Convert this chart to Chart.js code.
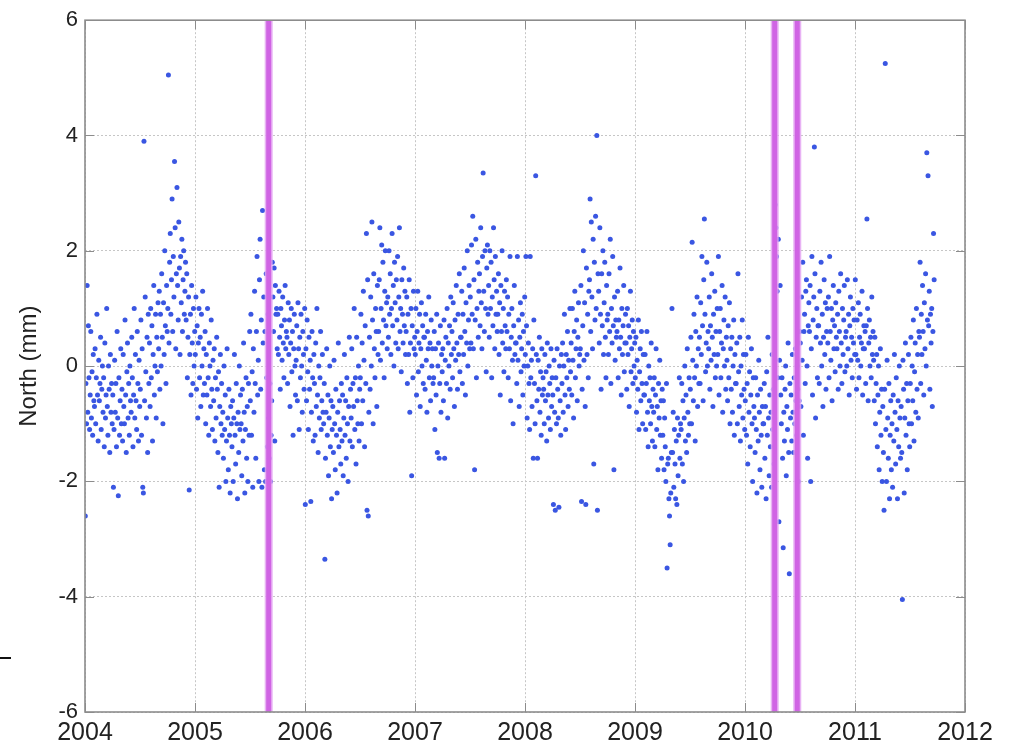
<!DOCTYPE html>
<html>
<head>
<meta charset="utf-8">
<script src="https://cdn.jsdelivr.net/npm/chart.js@4.4.0/dist/chart.umd.min.js"></script>
<style>
html, body { margin: 0; padding: 0; background: #fff; }
</style>
</head>
<body>
<canvas id="canvasNorth" width="1013" height="747"></canvas>
<script>
// ticks
var xTicks = [2004, 2005, 2006, 2007, 2008, 2009, 2010, 2011, 2012];
var yTicks = [-6, -4, -2, 0, 2, 4, 6];

// dates of the offsets (vertical magenta lines)
var offsetDates = [2005.67, 2010.27, 2010.475];

// north component (mm), one value every ~2 days, per year
var sampleStep = 1 / 180;
var north2004 = [
 -2.6,-0.3,-1.0,1.4,-0.8,0.7,-0.2,-1.1,-0.5,0.6,-0.9,-0.1,-1.2,0.2,-0.6,
 -0.7,0.3,-1.0,-0.2,0.9,-0.5,-1.3,0.1,-0.6,-0.3,0.5,-1.1,-0.4,0.0,-0.8,
 -0.2,-1.4,0.4,-0.9,-0.5,1.0,-0.7,-1.2,0.0,-0.4,-1.5,0.2,-0.8,-0.3,-1.0,
 -0.5,-2.1,-1.1,0.1,-0.8,-0.3,-1.4,0.6,-0.9,-2.25,-0.2,-1.2,-0.6,0.3,-1.0,
 -0.4,-1.3,0.2,-0.7,-1.0,0.8,-0.5,-1.5,-0.1,0.4,-0.9,-0.3,-1.2,0.0,-0.6,
 -0.8,0.5,-0.2,-1.4,-0.5,1.0,-0.9,0.2,-0.6,-1.1,0.6,-0.3,-1.3,0.1,-0.7,
 -0.4,0.8,-1.2,0.3,-2.1,-2.2,3.9,-0.6,1.2,-0.1,-0.9,0.5,-1.5,0.9,-0.3,
 0.4,-0.7,1.0,-0.2,0.7,-1.3,0.2,1.4,-0.5,0.0,0.9,-0.9,0.5,-0.1,1.1,
 0.3,1.3,-0.4,0.9,0.0,1.6,0.5,-1.0,1.1,0.2,2.0,0.7,-0.3,1.4,0.6,
 1.0,5.05,0.4,1.8,2.3,0.9,1.5,2.9,0.6,1.9,1.2,3.55,2.4,0.3,1.6,
 3.1,1.4,0.8,2.5,1.7,0.2,1.9,1.1,2.2,0.6,1.5,2.0,0.9,1.3,1.8,
 0.8,1.6,-0.2,0.5,1.2,-2.15,0.2,0.9,-0.5,1.4,0.4,-0.3,1.0,0.0,0.6
];
var north2005 = [
 0.2,1.2,-0.4,0.7,-0.9,0.4,1.0,-0.2,0.5,-0.7,0.9,0.0,1.3,-0.5,0.3,
 -0.3,0.6,-1.0,0.2,-0.5,1.0,-0.2,-1.2,0.4,0.0,-0.7,0.8,-0.4,-1.1,0.1,
 -0.6,0.3,-1.3,-0.2,-0.9,0.5,-0.4,-1.5,-0.1,-2.1,-0.7,0.2,-1.0,-0.3,-1.2,
 -0.8,-1.6,0.0,-1.1,-0.5,-2.0,-1.3,0.3,-0.9,-1.8,-0.4,-1.2,-2.2,-0.7,-1.0,
 -1.4,-0.6,-2.0,-0.9,0.2,-1.2,-1.7,-0.3,-1.0,-2.3,-0.8,-1.5,0.0,-1.1,-0.5,
 -1.0,-1.9,-0.4,-1.3,0.4,-0.8,-2.2,-1.1,-0.2,-1.6,-0.7,-2.0,-0.3,-1.2,0.6,
 -0.6,0.9,-1.2,-0.1,-2.1,0.3,-0.8,1.3,-0.3,-1.6,0.6,1.9,-0.5,0.1,-2.0,
 1.5,2.2,-0.4,0.8,-2.1,2.7,0.4,1.2,-1.8,0.6,-2.0,1.6,-0.2,-1.4,0.9,
 -0.9,-1.6,-0.3,-2.0,-1.2,-0.6,1.8,1.2,0.6,1.7,-1.3,1.4,0.9,1.0,0.3,
 0.9,0.2,1.3,0.5,-0.4,1.0,0.7,0.1,1.2,0.4,-0.2,0.8,1.4,0.3,0.6,
 0.5,-0.3,1.1,0.2,0.8,-0.7,0.4,1.0,-0.1,0.6,-1.2,0.3,0.9,0.0,-0.5,
 0.1,0.7,-0.6,1.1,0.3,-1.1,0.5,-0.2,0.9,0.0,-0.8,0.6,0.2,-0.4,1.0
];
var north2006 = [
 -2.4,0.3,-0.6,0.8,-0.1,-1.1,0.5,-0.4,0.1,-2.35,-0.8,0.6,-0.2,-1.3,0.2,
 -0.3,-1.2,0.4,-0.7,1.0,-0.5,-1.5,0.0,-0.9,-0.2,0.6,-1.1,-0.6,0.2,-0.8,
 -1.0,-0.3,-3.35,-1.6,-0.8,0.3,-1.2,-0.5,-1.9,-0.9,0.0,-1.4,-0.6,-2.3,-1.1,
 -0.7,-1.5,0.1,-1.0,-1.8,-0.4,-1.2,-2.2,-0.8,0.4,-1.4,-0.6,-1.1,-1.7,-0.3,
 -1.3,-0.5,-1.9,-0.9,0.2,-1.2,-0.6,-1.6,-0.2,-1.0,-2.0,-0.7,0.5,-1.3,-0.4,
 -0.9,0.3,-1.4,-0.3,-0.7,1.0,-1.1,-0.2,-1.7,0.5,-0.6,-1.0,0.0,-1.3,-0.4,
 -0.2,0.9,-1.0,0.4,-0.6,1.3,0.1,-1.4,0.7,-0.3,2.3,-2.5,1.5,-2.6,-0.8,
 0.5,-0.4,1.2,0.0,2.5,0.8,-1.0,1.6,0.3,-0.2,1.0,0.6,-0.7,1.4,0.2,
 0.6,1.5,2.4,0.1,1.0,2.1,0.4,1.8,0.8,-0.2,1.3,2.0,0.7,1.1,0.3,
 1.2,0.5,2.0,0.9,1.6,0.2,1.0,2.3,0.7,1.4,0.0,1.8,1.1,0.4,1.5,
 0.8,1.9,0.3,1.2,2.4,0.6,1.0,-0.1,1.5,0.9,0.4,1.7,0.7,1.3,0.2,
 0.6,1.2,-0.3,0.9,0.2,1.5,-0.8,0.4,1.0,-1.9,0.7,-0.2,1.3,0.3,0.5
];
var north2007 = [
 0.2,1.0,-0.5,0.6,1.3,-0.1,0.4,0.9,-0.7,0.3,1.1,0.0,0.7,-0.3,0.5,
 0.5,-0.4,0.9,0.1,-0.8,0.6,0.3,1.2,-0.2,0.4,-0.6,0.8,0.0,0.3,-0.3,
 -0.2,0.6,-1.1,0.3,-0.5,0.9,-1.5,0.0,0.4,-1.6,-0.3,0.7,-0.8,0.2,-0.1,
 0.3,-0.6,0.8,-1.6,0.1,0.5,-0.3,1.0,-0.9,0.4,0.0,0.7,-0.4,1.2,0.2,
 0.6,-0.2,1.1,0.3,-0.7,0.8,0.1,1.4,0.4,-0.4,0.9,0.2,1.6,-0.1,0.5,
 0.5,1.3,-0.3,0.9,0.2,1.7,0.6,-0.5,1.1,0.4,2.0,0.0,0.8,1.4,0.3,
 1.2,0.4,2.1,0.9,2.6,0.3,1.5,-1.8,0.8,2.2,-0.2,1.0,1.8,0.5,1.3,
 1.6,0.7,2.4,1.1,0.3,1.9,3.35,1.3,0.6,2.0,1.0,-0.1,1.7,2.1,0.9,
 1.4,0.5,2.0,1.0,1.8,-0.2,1.2,0.7,2.4,1.5,0.3,1.9,0.9,1.3,0.6,
 0.9,1.6,0.2,1.1,-0.5,1.4,0.6,2.0,0.4,1.0,-0.1,1.3,0.7,0.3,1.5,
 0.6,1.2,-0.2,0.9,0.3,1.9,-0.6,0.5,1.0,0.1,-1.0,0.7,1.4,0.2,0.4,
 0.4,-0.3,1.9,0.1,0.8,-0.7,0.5,1.1,-0.1,0.3,0.9,-0.5,0.6,0.0,1.2
];
var north2008 = [
 0.2,1.9,0.7,-0.9,0.0,0.4,-0.3,-1.1,1.9,-0.2,0.1,-0.7,0.3,-1.6,0.8,
 -0.3,-1.0,3.3,0.2,-0.6,-1.6,0.1,-0.4,0.5,-0.8,-0.1,-1.2,0.3,-0.5,-0.2,
 -0.4,-1.0,0.2,-0.6,-0.1,-1.3,0.4,-0.5,-0.9,0.0,-0.3,-1.1,0.3,-0.7,-0.2,
 -0.5,-2.4,0.1,-0.8,-2.5,-0.2,-1.0,0.3,-0.4,-0.9,-2.45,0.0,-0.6,-1.2,0.2,
 -0.3,0.4,-0.8,0.0,0.9,-0.5,-1.1,0.2,-0.2,0.6,-0.7,0.1,-0.4,1.0,-0.1,
 0.4,-0.5,1.0,0.1,-0.9,0.6,1.3,-0.2,0.3,0.8,-0.6,0.5,1.1,0.0,0.2,
 0.3,1.4,-2.35,-0.4,0.7,2.0,0.1,1.1,-0.7,-2.4,1.7,0.2,0.9,-0.2,1.3,
 1.5,2.9,0.6,2.5,1.2,0.3,2.2,-1.7,1.8,0.8,2.6,1.0,4.0,-2.5,1.6,
 1.3,0.4,2.4,0.9,-0.4,1.6,0.7,2.0,0.2,1.1,1.8,0.5,-0.2,1.4,0.8,
 0.9,0.2,1.6,0.6,2.2,-0.3,1.0,0.4,1.9,0.7,-1.8,1.2,0.1,0.8,0.5,
 0.6,1.3,-0.2,0.8,0.3,1.7,0.5,-0.5,1.0,0.2,0.7,1.4,-0.1,0.4,0.9,
 0.4,-0.4,1.0,0.2,0.7,-0.7,0.5,1.3,-0.1,0.3,0.8,-0.3,0.6,0.0,0.4
];
var north2009 = [
 -0.2,0.5,-0.8,0.1,-0.4,0.8,-1.1,-0.1,0.3,-0.6,0.6,-0.3,-1.0,0.2,-0.5,
 -0.5,0.2,-1.1,-0.3,0.6,-0.8,-1.4,0.0,-0.6,-0.2,-1.0,0.4,-0.7,-1.3,-0.4,
 -0.8,-0.2,-1.4,-0.5,0.3,-1.1,-0.7,-1.8,-0.3,-0.9,0.1,-1.2,-0.6,-1.6,-0.4,
 -1.2,-0.6,-1.8,-0.9,-1.4,-2.0,-0.3,-3.5,-1.7,-1.6,-2.3,-2.6,-3.1,-2.2,-1.5,
 1.0,-1.5,-0.8,-2.1,-1.1,-1.7,-2.3,-1.3,-2.4,-0.9,-1.9,-1.2,-0.2,-1.6,-1.0,
 -1.1,-0.3,-1.7,-0.6,-2.0,-0.9,0.0,-1.3,-0.5,-1.5,0.3,-0.8,-1.2,-0.2,-1.0,
 -0.4,0.5,-1.0,2.15,0.1,-0.6,0.9,-0.2,-1.3,0.6,0.0,1.2,-0.7,0.3,-0.3,
 0.5,-0.3,1.1,0.2,1.9,0.7,-0.6,1.5,2.55,0.9,-0.1,0.4,1.8,0.0,0.6,
 0.3,1.2,-0.4,0.7,0.1,1.6,0.5,-0.7,0.9,0.2,1.3,-0.2,0.6,0.0,1.0,
 0.2,1.9,-0.5,0.6,1.0,-0.2,0.4,1.4,-0.8,0.3,0.8,0.0,1.2,-0.4,0.5,
 0.1,-0.6,0.7,-0.2,1.1,-1.0,0.3,-0.4,0.5,-0.8,0.0,0.8,-1.2,0.2,-0.3,
 -0.3,0.4,-1.0,1.6,-0.1,-0.7,0.5,-1.3,0.0,-0.5,0.8,-0.9,0.2,-0.4,-1.1
];
var north2010 = [
 -0.6,0.2,-1.2,-0.3,-1.7,0.5,-0.8,-0.1,-1.4,-0.5,0.3,-1.0,-2.0,-0.2,-0.7,
 -0.9,-1.5,-0.2,-1.1,-2.2,-0.5,-1.3,0.1,-0.8,-1.8,-0.4,-1.2,-2.1,-0.7,-1.0,
 -1.0,-0.3,-1.6,-0.7,-2.3,-0.1,-1.2,0.5,-0.9,-1.9,-0.5,-1.4,-0.8,-2.1,0.2,
 -1.1,-0.4,-1.7,-0.9,2.8,2.4,1.9,1.3,-0.2,2.2,-2.7,0.1,1.4,-0.5,-1.0,
 -0.2,-1.6,-3.15,-0.8,-1.3,-0.4,0.0,-1.9,-0.7,-1.1,0.4,-1.5,-3.6,-0.3,-0.9,
 -0.5,-1.3,0.2,-0.8,-1.5,-0.2,-1.0,0.3,-0.6,-1.2,0.0,-0.4,-2.0,-0.6,0.6,
 0.4,-0.7,1.2,0.1,1.8,-1.2,0.6,0.9,-0.3,1.3,1.5,0.0,-1.6,0.7,1.1,
 0.6,1.4,-2.0,0.3,1.9,-0.5,0.8,1.2,3.8,1.6,-0.9,0.5,1.0,-0.2,0.7,
 0.7,-0.3,1.3,0.4,1.8,0.0,0.9,-0.7,0.5,1.5,0.2,1.1,-0.4,0.6,1.0,
 0.4,1.2,-0.2,1.9,0.6,0.1,1.0,-0.6,0.8,1.4,0.3,0.7,-0.1,1.1,0.5,
 0.3,0.9,-0.4,1.3,0.6,0.0,1.6,0.4,-0.3,1.0,0.2,0.8,1.4,-0.1,0.5,
 0.6,0.0,1.5,0.3,0.9,-0.5,0.7,1.2,0.1,0.5,-0.2,1.0,0.4,0.8,0.2
];
var north2011 = [
 1.5,0.2,-0.4,0.8,0.1,1.1,-0.2,0.5,0.9,0.0,0.4,1.3,-0.5,0.3,0.7,
 0.3,0.6,-0.3,0.7,2.55,1.0,-0.6,0.4,0.8,0.0,0.5,-0.2,1.2,0.2,0.6,
 0.1,-0.6,0.5,-1.0,-0.3,0.2,-1.4,-0.5,0.0,-1.8,-0.8,0.3,-1.2,-0.4,-2.0,
 -0.7,-1.5,-2.5,-0.4,5.25,-1.1,-2.0,0.1,-0.9,-1.6,-0.3,-2.3,-1.2,-0.6,-1.8,
 -1.0,-2.1,-0.5,-1.3,0.2,-0.8,-1.7,-0.2,-1.1,-2.3,-0.6,-1.4,0.0,-0.9,-1.6,
 -0.7,-1.5,-4.05,0.1,-0.4,-2.2,-0.9,0.4,-1.2,-0.3,-1.8,-0.6,0.2,-1.0,-1.4,
 -0.3,0.5,-1.0,0.0,-0.6,0.8,-1.3,-0.1,0.4,-0.8,1.0,-0.4,0.2,-0.9,0.6,
 0.5,1.8,-0.3,0.9,0.2,1.4,0.6,-0.5,1.1,0.3,1.6,0.0,3.7,0.8,3.3,
 0.7,1.3,-0.4,0.9,0.4,1.0,-0.7,0.6,2.3,1.5
];
var northYears = [2004, 2005, 2006, 2007, 2008, 2009, 2010, 2011];
var northSeries = [north2004, north2005, north2006, north2007, north2008, north2009, north2010, north2011];

var northPoints = [];
northYears.forEach(function(year, k){
	northSeries[k].forEach(function(v, i){
		northPoints.push({ x: year + (i + 0.5) * sampleStep, y: v });
	});
});

var yMin = yTicks[0], yMax = yTicks[yTicks.length - 1];
var datasets = [{
	type: 'scatter',
	label: 'North',
	data: northPoints,
	pointRadius: 2.5,
	pointBorderWidth: 0,
	pointBackgroundColor: 'rgb(58,86,226)',
	order: 2
}];
offsetDates.forEach(function(d){
	datasets.push({
		type: 'line', data: [{x: d, y: yMin}, {x: d, y: yMax}],
		borderColor: 'rgba(228,164,242,0.85)', borderWidth: 8, pointRadius: 0, order: 1
	});
	datasets.push({
		type: 'line', data: [{x: d, y: yMin}, {x: d, y: yMax}],
		borderColor: 'rgb(208,100,228)', borderWidth: 5, pointRadius: 0, order: 0
	});
});

// matlab-like box with inward ticks
var axesBox = {
	id: 'axesBox',
	afterDatasetsDraw: function(chart){
		var ctx = chart.ctx, a = chart.chartArea, sx = chart.scales.x, sy = chart.scales.y;
		ctx.save();
		ctx.strokeStyle = '#8c8c8c';
		ctx.lineWidth = 1;
		ctx.beginPath();
		xTicks.forEach(function(v){
			var px = Math.round(sx.getPixelForValue(v)) + 0.5;
			ctx.moveTo(px, a.bottom); ctx.lineTo(px, a.bottom - 9);
			ctx.moveTo(px, a.top); ctx.lineTo(px, a.top + 9);
		});
		yTicks.forEach(function(v){
			var py = Math.round(sy.getPixelForValue(v)) + 0.5;
			ctx.moveTo(a.left, py); ctx.lineTo(a.left + 9, py);
			ctx.moveTo(a.right, py); ctx.lineTo(a.right - 9, py);
		});
		ctx.stroke();
		ctx.lineWidth = 1.6;
		ctx.strokeRect(a.left, a.top, a.right - a.left, a.bottom - a.top);
		// small dash at the left edge of the figure
		ctx.strokeStyle = '#111';
		ctx.lineWidth = 2;
		ctx.beginPath(); ctx.moveTo(0, 658); ctx.lineTo(11, 658); ctx.stroke();
		ctx.restore();
	}
};

var ctx = document.getElementById('canvasNorth').getContext('2d');
window.myChart = new Chart(ctx, {
	data: { datasets: datasets },
	plugins: [axesBox],
	options: {
		responsive: false,
		animation: false,
		layout: { padding: { left: 0, top: 16, right: 48, bottom: 0 } },
		plugins: { legend: { display: false }, tooltip: { enabled: false } },
		scales: {
			x: {
				type: 'linear', min: xTicks[0], max: xTicks[xTicks.length - 1],
				afterBuildTicks: function(scale){ scale.ticks = xTicks.map(function(v){ return {value: v}; }); },
				afterFit: function(scale){ scale.height = 35; },
				ticks: {
					padding: 6, color: '#222', maxRotation: 0, autoSkip: false,
					font: { family: 'Liberation Sans, Arial, sans-serif', size: 25 },
					callback: function(v){ return String(v); }
				},
				grid: { color: '#c6c6c6', drawTicks: false, lineWidth: 1 },
				border: { display: false, dash: [2, 2] }
			},
			y: {
				type: 'linear', min: yMin, max: yMax,
				afterBuildTicks: function(scale){ scale.ticks = yTicks.map(function(v){ return {value: v}; }); },
				afterFit: function(scale){ scale.width = 85; },
				ticks: {
					padding: 7, color: '#222', autoSkip: false,
					font: { family: 'Liberation Sans, Arial, sans-serif', size: 22 },
					callback: function(v){ return String(v); }
				},
				grid: { color: '#c6c6c6', drawTicks: false, lineWidth: 1 },
				border: { display: false, dash: [2, 2] },
				title: {
					display: true, text: 'North (mm)', color: '#222',
					font: { family: 'Liberation Sans, Arial, sans-serif', size: 24 },
					padding: { top: 15, bottom: 0 }
				}
			}
		}
	}
});
</script>
</body>
</html>
